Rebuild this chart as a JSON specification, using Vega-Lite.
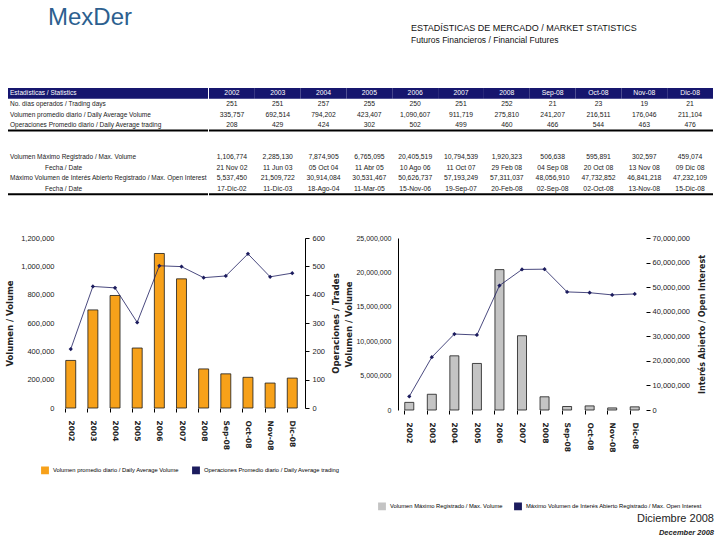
{
  "$schema": "https://vega.github.io/schema/vega-lite/v6.json",
  "padding": {"left": 5, "top": 6, "right": 4, "bottom": 2},
  "background": "white",
  "config": {
    "view": {"stroke": null},
    "font": "Liberation Sans",
    "axis": {"grid": false, "labelColor": "#222", "titleColor": "#222"}
  },
  "title": {
    "text": "Diciembre 2008",
    "subtitle": "December 2008",
    "orient": "bottom",
    "anchor": "end",
    "font": "Liberation Sans",
    "fontSize": 11,
    "fontWeight": "normal",
    "color": "#222",
    "subtitleFont": "Liberation Sans",
    "subtitleFontSize": 7.5,
    "subtitleFontStyle": "italic",
    "subtitleFontWeight": "bold",
    "subtitleColor": "#222",
    "subtitlePadding": 5,
    "offset": 0
  },
  "datasets": {
    "labels": [
      {"c": "label", "r": "h", "k": "main", "t": "Estadísticas / Statistics"},
      {"c": "label", "r": "r1", "k": "main", "t": "No. días operados / Trading days"},
      {"c": "label", "r": "r2", "k": "main", "t": "Volumen promedio diario / Daily Average Volume"},
      {"c": "label", "r": "r3", "k": "main", "t": "Operaciones Promedio diario / Daily Average trading"},
      {"c": "label", "r": "r4", "k": "main", "t": "Volumen Máximo Registrado / Max. Volume"},
      {"c": "label", "r": "r5", "k": "sub", "t": "Fecha / Date"},
      {"c": "label", "r": "r6", "k": "main", "t": "Máximo Volumen de Interés Abierto Registrado / Max. Open Interest"},
      {"c": "label", "r": "r7", "k": "sub", "t": "Fecha / Date"}
    ],
    "cells": [
      {"r": "h", "c": "2002", "t": "2002"}, {"r": "h", "c": "2003", "t": "2003"}, {"r": "h", "c": "2004", "t": "2004"}, {"r": "h", "c": "2005", "t": "2005"}, {"r": "h", "c": "2006", "t": "2006"}, {"r": "h", "c": "2007", "t": "2007"}, {"r": "h", "c": "2008", "t": "2008"}, {"r": "h", "c": "Sep-08", "t": "Sep-08"}, {"r": "h", "c": "Oct-08", "t": "Oct-08"}, {"r": "h", "c": "Nov-08", "t": "Nov-08"}, {"r": "h", "c": "Dic-08", "t": "Dic-08"},
      {"r": "r1", "c": "2002", "t": "251"}, {"r": "r1", "c": "2003", "t": "251"}, {"r": "r1", "c": "2004", "t": "257"}, {"r": "r1", "c": "2005", "t": "255"}, {"r": "r1", "c": "2006", "t": "250"}, {"r": "r1", "c": "2007", "t": "251"}, {"r": "r1", "c": "2008", "t": "252"}, {"r": "r1", "c": "Sep-08", "t": "21"}, {"r": "r1", "c": "Oct-08", "t": "23"}, {"r": "r1", "c": "Nov-08", "t": "19"}, {"r": "r1", "c": "Dic-08", "t": "21"},
      {"r": "r2", "c": "2002", "t": "335,757"}, {"r": "r2", "c": "2003", "t": "692,514"}, {"r": "r2", "c": "2004", "t": "794,202"}, {"r": "r2", "c": "2005", "t": "423,407"}, {"r": "r2", "c": "2006", "t": "1,090,607"}, {"r": "r2", "c": "2007", "t": "911,719"}, {"r": "r2", "c": "2008", "t": "275,810"}, {"r": "r2", "c": "Sep-08", "t": "241,207"}, {"r": "r2", "c": "Oct-08", "t": "216,511"}, {"r": "r2", "c": "Nov-08", "t": "176,046"}, {"r": "r2", "c": "Dic-08", "t": "211,104"},
      {"r": "r3", "c": "2002", "t": "208"}, {"r": "r3", "c": "2003", "t": "429"}, {"r": "r3", "c": "2004", "t": "424"}, {"r": "r3", "c": "2005", "t": "302"}, {"r": "r3", "c": "2006", "t": "502"}, {"r": "r3", "c": "2007", "t": "499"}, {"r": "r3", "c": "2008", "t": "460"}, {"r": "r3", "c": "Sep-08", "t": "466"}, {"r": "r3", "c": "Oct-08", "t": "544"}, {"r": "r3", "c": "Nov-08", "t": "463"}, {"r": "r3", "c": "Dic-08", "t": "476"},
      {"r": "r4", "c": "2002", "t": "1,106,774"}, {"r": "r4", "c": "2003", "t": "2,285,130"}, {"r": "r4", "c": "2004", "t": "7,874,905"}, {"r": "r4", "c": "2005", "t": "6,765,095"}, {"r": "r4", "c": "2006", "t": "20,405,519"}, {"r": "r4", "c": "2007", "t": "10,794,539"}, {"r": "r4", "c": "2008", "t": "1,920,323"}, {"r": "r4", "c": "Sep-08", "t": "506,638"}, {"r": "r4", "c": "Oct-08", "t": "595,891"}, {"r": "r4", "c": "Nov-08", "t": "302,597"}, {"r": "r4", "c": "Dic-08", "t": "459,074"},
      {"r": "r5", "c": "2002", "t": "21 Nov 02"}, {"r": "r5", "c": "2003", "t": "11 Jun 03"}, {"r": "r5", "c": "2004", "t": "05 Oct 04"}, {"r": "r5", "c": "2005", "t": "11 Abr 05"}, {"r": "r5", "c": "2006", "t": "10 Ago 06"}, {"r": "r5", "c": "2007", "t": "11 Oct 07"}, {"r": "r5", "c": "2008", "t": "29 Feb 08"}, {"r": "r5", "c": "Sep-08", "t": "04 Sep 08"}, {"r": "r5", "c": "Oct-08", "t": "20 Oct 08"}, {"r": "r5", "c": "Nov-08", "t": "13 Nov 08"}, {"r": "r5", "c": "Dic-08", "t": "09 Dic 08"},
      {"r": "r6", "c": "2002", "t": "5,537,450"}, {"r": "r6", "c": "2003", "t": "21,509,722"}, {"r": "r6", "c": "2004", "t": "30,914,084"}, {"r": "r6", "c": "2005", "t": "30,531,467"}, {"r": "r6", "c": "2006", "t": "50,626,737"}, {"r": "r6", "c": "2007", "t": "57,193,249"}, {"r": "r6", "c": "2008", "t": "57,311,037"}, {"r": "r6", "c": "Sep-08", "t": "48,056,910"}, {"r": "r6", "c": "Oct-08", "t": "47,732,852"}, {"r": "r6", "c": "Nov-08", "t": "46,841,218"}, {"r": "r6", "c": "Dic-08", "t": "47,232,109"},
      {"r": "r7", "c": "2002", "t": "17-Dic-02"}, {"r": "r7", "c": "2003", "t": "11-Dic-03"}, {"r": "r7", "c": "2004", "t": "18-Ago-04"}, {"r": "r7", "c": "2005", "t": "11-Mar-05"}, {"r": "r7", "c": "2006", "t": "15-Nov-06"}, {"r": "r7", "c": "2007", "t": "19-Sep-07"}, {"r": "r7", "c": "2008", "t": "20-Feb-08"}, {"r": "r7", "c": "Sep-08", "t": "02-Sep-08"}, {"r": "r7", "c": "Oct-08", "t": "02-Oct-08"}, {"r": "r7", "c": "Nov-08", "t": "13-Nov-08"}, {"r": "r7", "c": "Dic-08", "t": "15-Dic-08"}
    ],
    "stats": [
      {"p": "2002", "vol": 335757, "ops": 208, "maxv": 1106774, "oi": 5537450},
      {"p": "2003", "vol": 692514, "ops": 429, "maxv": 2285130, "oi": 21509722},
      {"p": "2004", "vol": 794202, "ops": 424, "maxv": 7874905, "oi": 30914084},
      {"p": "2005", "vol": 423407, "ops": 302, "maxv": 6765095, "oi": 30531467},
      {"p": "2006", "vol": 1090607, "ops": 502, "maxv": 20405519, "oi": 50626737},
      {"p": "2007", "vol": 911719, "ops": 499, "maxv": 10794539, "oi": 57193249},
      {"p": "2008", "vol": 275810, "ops": 460, "maxv": 1920323, "oi": 57311037},
      {"p": "Sep-08", "vol": 241207, "ops": 466, "maxv": 506638, "oi": 48056910},
      {"p": "Oct-08", "vol": 216511, "ops": 544, "maxv": 595891, "oi": 47732852},
      {"p": "Nov-08", "vol": 176046, "ops": 463, "maxv": 302597, "oi": 46841218},
      {"p": "Dic-08", "vol": 211104, "ops": 476, "maxv": 459074, "oi": 47232109}
    ]
  },
  "spacing": 29,
  "vconcat": [
    {
      "spacing": 0,
      "hconcat": [
        {
          "width": 150,
          "height": 117,
          "title": {"text": "MexDer", "anchor": "start", "dx": 40, "font": "Liberation Sans", "fontSize": 24, "fontWeight": "normal", "color": "#2d5f8f", "offset": 58},
          "data": {"name": "labels"},
          "encoding": {
            "x": {"field": "c", "type": "nominal", "axis": null, "scale": {"range": [-50, 150], "paddingInner": 0, "paddingOuter": 0}},
            "y": {"field": "r", "type": "nominal", "axis": null, "scale": {"domain": ["h", "r1", "r2", "r3", "b1", "b2", "r4", "r5", "r6", "r7", "end"], "paddingInner": 0, "paddingOuter": 0}}
          },
          "layer": [
            {
              "transform": [{"filter": "datum.r == 'h'"}],
              "mark": {"type": "rect", "color": "#16166e"}
            },
            {
              "transform": [{"filter": "datum.k == 'main'"}],
              "mark": {"type": "text", "align": "left", "dx": 2, "font": "Liberation Sans", "fontSize": 6.5},
              "encoding": {
                "x": {"field": "c", "type": "nominal", "bandPosition": 0, "axis": null},
                "text": {"field": "t"},
                "color": {"condition": {"test": "datum.r == 'h'", "value": "white"}, "value": "#1a1a1a"}
              }
            },
            {
              "transform": [{"filter": "datum.k == 'sub'"}],
              "mark": {"type": "text", "align": "left", "font": "Liberation Sans", "fontSize": 6.5, "color": "#1a1a1a"},
              "encoding": {
                "x": {"field": "c", "type": "nominal", "bandPosition": 0.185, "axis": null},
                "text": {"field": "t"}
              }
            },
            {
              "data": {"values": [{"c": "label", "r": "b1"}, {"c": "label", "r": "end"}]},
              "mark": {"type": "tick", "orient": "horizontal", "size": 200, "thickness": 2, "color": "#000", "opacity": 1},
              "encoding": {
                "y": {"field": "r", "type": "nominal", "bandPosition": 0, "axis": null}
              }
            }
          ]
        },
        {
          "width": 504,
          "height": 117,
          "title": {"text": "ESTADÍSTICAS DE MERCADO / MARKET STATISTICS", "subtitle": "Futuros Financieros / Financial Futures", "anchor": "start", "dx": 203, "font": "Liberation Sans", "fontSize": 9, "fontWeight": "normal", "color": "#111", "subtitleFont": "Liberation Sans", "subtitleFontSize": 8.5, "subtitleColor": "#111", "subtitlePadding": 3, "offset": 44},
          "data": {"name": "cells"},
          "layer": [
            {
              "transform": [{"filter": "datum.r == 'h'"}],
              "mark": {"type": "rect", "color": "#16166e"},
              "encoding": {
                "x": {"field": "c", "type": "nominal", "sort": null, "axis": null, "scale": {"domain": ["2002", "2003", "2004", "2005", "2006", "2007", "2008", "Sep-08", "Oct-08", "Nov-08", "Dic-08"], "paddingInner": 0, "paddingOuter": 0}},
                "y": {"field": "r", "type": "nominal", "axis": null, "scale": {"domain": ["h", "r1", "r2", "r3", "b1", "b2", "r4", "r5", "r6", "r7", "end"], "paddingInner": 0, "paddingOuter": 0}}
              }
            },
            {
              "mark": {"type": "text", "align": "center", "font": "Liberation Sans", "fontSize": 6.8},
              "encoding": {
                "x": {"field": "c", "type": "nominal", "sort": null, "axis": null},
                "y": {"field": "r", "type": "nominal", "axis": null},
                "text": {"field": "t"},
                "color": {"condition": {"test": "datum.r == 'h'", "value": "white"}, "value": "#1a1a1a"},
                "fontWeight": {"condition": {"test": "datum.r == 'h'", "value": "bold"}, "value": "normal"}
              }
            },
            {
              "data": {"values": [{"r": "b1"}, {"r": "end"}]},
              "mark": {"type": "rule", "color": "#000", "strokeWidth": 2},
              "encoding": {"y": {"field": "r", "type": "nominal", "bandPosition": 0, "axis": null}}
            }
          ]
        }
      ]
    },
    {
      "spacing": 3,
      "resolve": {"scale": {"color": "independent"}, "legend": {"color": "independent"}},
      "hconcat": [
        {
          "width": 247,
          "height": 170,
          "data": {"name": "stats"},
          "encoding": {
            "x": {"field": "p", "type": "nominal", "sort": null, "title": null,
              "scale": {"paddingInner": 0.55, "paddingOuter": 0.35},
              "axis": {"labelAngle": 90, "labelFont": "DejaVu Sans", "labelFontWeight": "bold", "labelFontSize": 7.5, "labelPadding": 8, "domain": false, "ticks": true, "bandPosition": 0, "tickSize": 4, "tickColor": "#000"}}
          },
          "layer": [
            {
              "mark": {"type": "bar", "stroke": "#1a1a1a", "strokeWidth": 0.8},
              "encoding": {
                "y": {"field": "vol", "type": "quantitative", "scale": {"domain": [0, 1200000]},
                  "axis": {"title": "Volumen / Volume", "values": [0, 200000, 400000, 600000, 800000, 1000000, 1200000], "format": ",d", "domain": false, "ticks": false, "labelFont": "Liberation Sans", "labelFontSize": 7.5, "labelPadding": 4, "titleFont": "DejaVu Sans", "titleFontSize": 8.5, "titleFontWeight": "bold", "titlePadding": 6}},
                "color": {"datum": "Volumen promedio diario / Daily Average Volume", "type": "nominal",
                  "scale": {"domain": ["Volumen promedio diario / Daily Average Volume", "Operaciones Promedio diario / Daily Average trading"], "range": ["#f7a11a", "#1c1c5e"]},
                  "legend": {"orient": "none", "legendX": -17, "legendY": 228, "direction": "horizontal", "title": null, "labelFont": "Liberation Sans", "labelFontSize": 5.8, "labelLimit": 300, "symbolSize": 40, "columnPadding": 10,
                    "encode": {"symbols": {"update": {"shape": {"signal": "datum.value == 'Volumen promedio diario / Daily Average Volume' ? 'M-1.6,-0.45H1.6V0.45H-1.6Z' : 'diamond'"}}}}}}
              }
            },
            {
              "mark": {"type": "line", "strokeWidth": 0.8, "point": {"shape": "diamond", "size": 18, "filled": true}},
              "encoding": {
                "y": {"field": "ops", "type": "quantitative", "scale": {"domain": [0, 600]},
                  "axis": {"orient": "right", "title": "Operaciones / Trades", "titleAngle": 270, "titleBaseline": "top", "values": [0, 100, 200, 300, 400, 500, 600], "domain": true, "domainColor": "#000", "ticks": true, "tickColor": "#000", "tickSize": 4, "labelFont": "Liberation Sans", "labelFontSize": 7.5, "labelPadding": 3, "titleFont": "DejaVu Sans", "titleFontSize": 8.5, "titleFontWeight": "bold", "titlePadding": 7}},
                "color": {"datum": "Operaciones Promedio diario / Daily Average trading", "type": "nominal"}
              }
            }
          ],
          "resolve": {"scale": {"y": "independent"}}
        },
        {
          "width": 248,
          "height": 172,
          "data": {"name": "stats"},
          "encoding": {
            "x": {"field": "p", "type": "nominal", "sort": null, "title": null,
              "scale": {"paddingInner": 0.6, "paddingOuter": 0.3},
              "axis": {"labelAngle": 90, "labelFont": "DejaVu Sans", "labelFontWeight": "bold", "labelFontSize": 7.5, "labelPadding": 8, "domain": false, "ticks": true, "bandPosition": 0, "tickSize": 4, "tickColor": "#000"}}
          },
          "layer": [
            {
              "mark": {"type": "bar", "stroke": "#1a1a1a", "strokeWidth": 0.8},
              "encoding": {
                "y": {"field": "maxv", "type": "quantitative", "scale": {"domain": [0, 25000000]},
                  "axis": {"title": "Volumen / Volume", "values": [0, 5000000, 10000000, 15000000, 20000000, 25000000], "format": ",d", "domain": true, "domainColor": "#000", "ticks": false, "labelFont": "Liberation Sans", "labelFontSize": 7, "labelPadding": 7, "titleFont": "DejaVu Sans", "titleFontSize": 8.5, "titleFontWeight": "bold", "titlePadding": 2}},
                "color": {"datum": "Volumen Máximo Registrado / Max. Volume", "type": "nominal",
                  "scale": {"domain": ["Volumen Máximo Registrado / Max. Volume", "Máximo Volumen de Interés Abierto Registrado / Max. Open Interest"], "range": ["#c4c4c4", "#1c1c5e"]},
                  "legend": {"orient": "none", "legendX": -20, "legendY": 264, "direction": "horizontal", "title": null, "labelFont": "Liberation Sans", "labelFontSize": 5.8, "labelLimit": 300, "symbolSize": 40, "columnPadding": 8,
                    "encode": {"symbols": {"update": {"shape": {"signal": "datum.value == 'Volumen Máximo Registrado / Max. Volume' ? 'M-1.6,-0.45H1.6V0.45H-1.6Z' : 'M-1.6,0H1.6M0,-0.6V0.6'"}, "stroke": {"signal": "datum.value == 'Volumen Máximo Registrado / Max. Volume' ? '#555' : '#1c1c5e'"}, "strokeWidth": {"value": 1.2}}}}}}
              }
            },
            {
              "mark": {"type": "line", "strokeWidth": 0.8, "point": {"shape": "diamond", "size": 18, "filled": true}},
              "encoding": {
                "y": {"field": "oi", "type": "quantitative", "scale": {"domain": [0, 70000000]},
                  "axis": {"orient": "right", "title": "Interés Abierto / Open Interest", "titleAngle": 270, "titleBaseline": "top", "values": [0, 10000000, 20000000, 30000000, 40000000, 50000000, 60000000, 70000000], "format": ",d", "domain": false, "ticks": true, "tickColor": "#000", "tickSize": 4, "labelFont": "Liberation Sans", "labelFontSize": 7.5, "labelPadding": 2, "titleFont": "DejaVu Sans", "titleFontSize": 8, "titleFontWeight": "bold", "titlePadding": 9}},
                "color": {"datum": "Máximo Volumen de Interés Abierto Registrado / Max. Open Interest", "type": "nominal"}
              }
            }
          ],
          "resolve": {"scale": {"y": "independent"}}
        }
      ]
    }
  ]
}
